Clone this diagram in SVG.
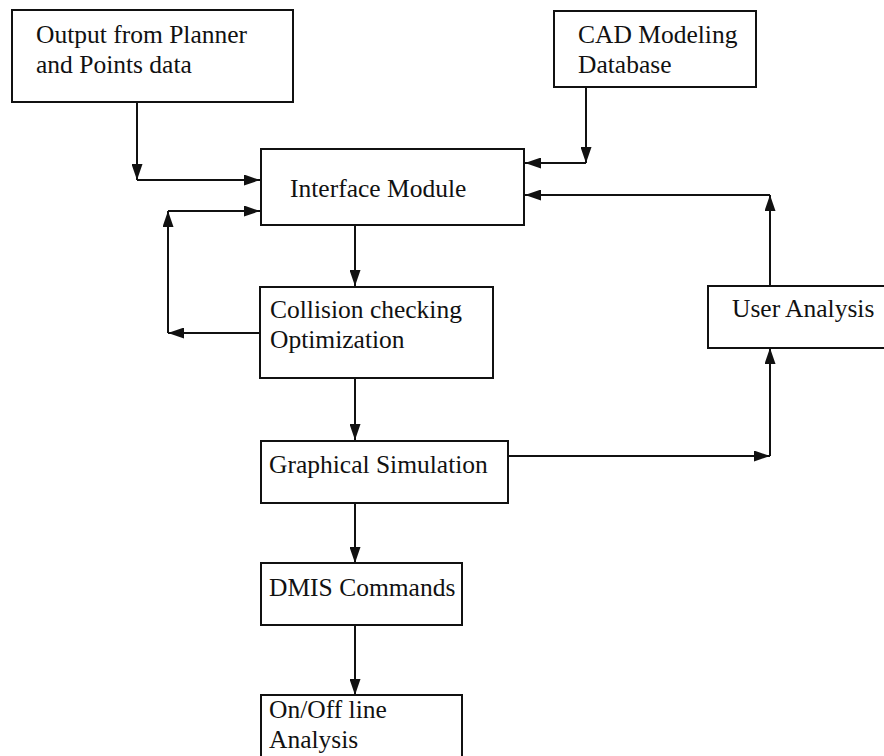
<svg xmlns="http://www.w3.org/2000/svg" width="884" height="756" viewBox="0 0 884 756">
  <style>
    .box { fill: #ffffff; stroke: #111111; stroke-width: 2; }
    .lbl { font-family: "Liberation Serif", "Times New Roman", serif; font-size: 25.5px; fill: #111111; }
    .wire { fill: none; stroke: #111111; stroke-width: 2; marker-end: url(#head); }
  </style>
  <defs>
    <marker id="head" markerUnits="userSpaceOnUse" markerWidth="16" markerHeight="11" refX="16" refY="5.5" orient="auto">
      <path d="M0,0 L16,5.5 L0,11 z" fill="#111111"/>
    </marker>
  </defs>

  <rect width="884" height="756" fill="#ffffff"/>

  <!-- connectors -->
  <g id="connectors">
    <path class="wire" d="M137,102 V180"/>
    <path class="wire" d="M137,180 H260"/>
    <path class="wire" d="M586,87 V163"/>
    <path class="wire" d="M586,163 H525"/>
    <path class="wire" d="M770,286 V195"/>
    <path class="wire" d="M770,195 H525"/>
    <path class="wire" d="M355,225 V286"/>
    <path class="wire" d="M260,333 H168"/>
    <path class="wire" d="M168,333 V211"/>
    <path class="wire" d="M168,211 H260"/>
    <path class="wire" d="M355,378 V440"/>
    <path class="wire" d="M508,456 H770"/>
    <path class="wire" d="M770,456 V348"/>
    <path class="wire" d="M355,503 V563"/>
    <path class="wire" d="M355,620 V695"/>
  </g>

  <g id="planner-output">
    <rect class="box" x="12" y="10" width="281" height="92"/>
    <text class="lbl" x="36" y="43">Output from Planner</text>
    <text class="lbl" x="36" y="73">and Points data</text>
  </g>

  <g id="cad-database">
    <rect class="box" x="554" y="11" width="202" height="76"/>
    <text class="lbl" x="578" y="43">CAD Modeling</text>
    <text class="lbl" x="578" y="73">Database</text>
  </g>

  <g id="interface-module">
    <rect class="box" x="261" y="149" width="263" height="76"/>
    <text class="lbl" x="290" y="197">Interface Module</text>
  </g>

  <g id="collision-checking">
    <rect class="box" x="260" y="287" width="233" height="91"/>
    <text class="lbl" x="270" y="318">Collision checking</text>
    <text class="lbl" x="270" y="348">Optimization</text>
  </g>

  <g id="user-analysis">
    <path class="box" d="M886,286 H708 V348 H886"/>
    <text class="lbl" x="732" y="317">User Analysis</text>
  </g>

  <g id="graphical-simulation">
    <rect class="box" x="261" y="441" width="247" height="62"/>
    <text class="lbl" x="269" y="473">Graphical Simulation</text>
  </g>

  <g id="dmis-commands">
    <rect class="box" x="261" y="563" width="201" height="62"/>
    <text class="lbl" x="269" y="596">DMIS Commands</text>
  </g>

  <g id="online-analysis">
    <path class="box" d="M261,758 V695 H462 V758"/>
    <text class="lbl" x="269" y="718">On/Off line</text>
    <text class="lbl" x="269" y="748">Analysis</text>
  </g>
</svg>
